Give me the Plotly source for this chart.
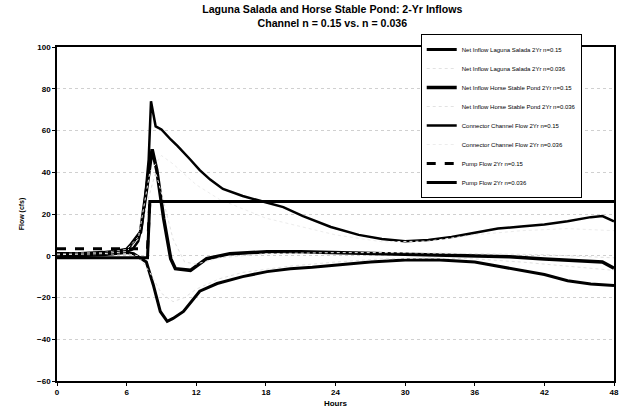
import plotly.graph_objects as go

# ---- data ----
x_tick_vals = [0, 6, 12, 18, 24, 30, 36, 42, 48]
y_tick_vals = [-60, -40, -20, 0, 20, 40, 60, 80, 100]

ls15_hours = [0, 2, 4, 6, 6.6, 7.7, 8.3, 8.9, 9.5, 10.0, 10.9, 12.3, 13.8, 16, 18.1, 20.1, 22, 24, 27, 30, 33, 36, 38, 40, 42, 44, 46, 48]
ls15_flow = [0, 0, 0.5, 1.5, 1, -3, -14, -26.7, -31.4, -30, -26.7, -17, -13.3, -10, -7.6, -6.2, -5.5, -4.5, -3, -2, -2, -3, -5, -7, -9, -12, -13.5, -14.3]

ls036_hours = [0, 4, 6, 7, 8, 9, 10, 11, 12, 14, 16, 20, 24, 28, 32, 36, 40, 44, 48]
ls036_flow = [0, 0.5, 1, 0, -8, -18, -22, -20, -16, -11, -8, -5, -3, -1.5, -1, -1.5, -3, -5, -7]

hsp15_hours = [0, 2, 4, 5, 6, 6.3, 7.2, 7.7, 8.2, 8.6, 9.2, 9.8, 10.2, 11.5, 12.9, 14.9, 18.1, 21, 24, 27, 30, 33, 36, 39, 42, 45, 47, 48]
hsp15_flow = [1, 1, 1.5, 2, 3, 4.8, 11.4, 30, 51, 41, 17.6, -1.4, -6.2, -7, -1.4, 1, 1.9, 1.9, 1.5, 1.2, 1, 0.5, 0, -0.5, -1.5, -2.5, -3, -6]

hsp036_hours = [0, 4, 6, 7, 8, 8.5, 9, 10, 11, 12, 14, 18, 24, 30, 36, 42, 48]
hsp036_flow = [1, 1.5, 3, 9, 30, 40, 30, 8, -3, -4, -1, 1, 1.5, 1.5, 1, 0.5, -1]

cc15_hours = [0, 2, 4, 5, 6, 6.5, 7, 7.3, 7.6, 7.9, 8.1, 8.5, 9.0, 9.8, 10.4, 11.5, 12.3, 13.2, 14.3, 16, 17.8, 19.5, 21.2, 23.6, 26, 28, 30, 32, 34, 36, 38, 40, 42, 44, 46, 47, 48]
cc15_flow = [0.5, 0.5, 1, 1.5, 2, 3, 7, 14, 28, 46, 74, 62, 60.5, 55.7, 52.5, 46, 41, 36.5, 32, 28.6, 26, 23.3, 19, 13.8, 10, 8, 7, 7.5, 9, 11, 13, 14, 15, 16.5, 18.5, 19, 16.5]

cc036_hours = [0, 4, 6, 7, 8, 9, 10, 12, 14, 18, 24, 28, 32, 36, 40, 44, 48]
cc036_flow = [0.5, 1, 2, 8, 40, 48, 44, 34, 27, 18, 10, 6.7, 7, 10, 12, 13, 12]

pump15_hours = [0, 7.8, 8.0, 48]
pump15_flow = [3.3, 3.3, 26, 26]

pump036_hours = [0, 7.8, 8.0, 48]
pump036_flow = [-1, -1, 26, 26]

names = [
    "Net Inflow Laguna Salada 2Yr n=0.15",
    "Net Inflow Laguna Salada 2Yr n=0.036",
    "Net Inflow Horse Stable Pond 2Yr n=0.15",
    "Net Inflow Horse Stable Pond 2Yr n=0.036",
    "Connector Channel Flow 2Yr n=0.15",
    "Connector Channel Flow 2Yr n=0.036",
    "Pump Flow 2Yr n=0.15",
    "Pump Flow 2Yr n=0.036",
]

series = [
    (ls15_hours, ls15_flow, dict(color="black", width=3)),
    (ls036_hours, ls036_flow, dict(color="#e2e2e2", width=1, dash="dot")),
    (hsp15_hours, hsp15_flow, dict(color="black", width=3.5)),
    (hsp036_hours, hsp036_flow, dict(color="#e2e2e2", width=1, dash="dot")),
    (cc15_hours, cc15_flow, dict(color="black", width=2.5)),
    (cc036_hours, cc036_flow, dict(color="#ececec", width=1, dash="dot")),
    (pump15_hours, pump15_flow, dict(color="black", width=3, dash="dash")),
    (pump036_hours, pump036_flow, dict(color="black", width=3)),
]

fig = go.Figure()
for name, (xs, ys, line) in zip(names, series):
    fig.add_trace(go.Scatter(x=xs, y=ys, mode="lines", name=name, line=line))

font_family = "Liberation Sans, Arial, sans-serif"

fig.update_layout(
    width=627,
    height=418,
    margin=dict(l=57, r=13, t=47, b=37, autoexpand=False),
    paper_bgcolor="white",
    plot_bgcolor="white",
    font=dict(family=font_family, color="black"),
    title=dict(
        text="Laguna Salada and Horse Stable Pond: 2-Yr Inflows<br>Channel n = 0.15 vs. n = 0.036",
        x=0.53, xanchor="center", y=0.969, yanchor="top",
        font=dict(size=10.6, weight="bold", family=font_family),
    ),
    showlegend=True,
    legend=dict(
        x=0.653, y=1.039, xanchor="left", yanchor="top",
        bgcolor="white", bordercolor="black", borderwidth=1,
        font=dict(size=6, family=font_family),
        itemwidth=30, tracegroupgap=0,
    ),
)

fig.update_xaxes(
    range=[0, 48], tickvals=x_tick_vals,
    showline=True, linecolor="black", linewidth=1.5, mirror=True,
    ticks="outside", ticklen=3, tickcolor="black",
    showgrid=False, zeroline=False,
    tickfont=dict(size=8, weight="bold"),
    title=dict(text="Hours", font=dict(size=8, weight="bold"), standoff=4),
)
fig.update_yaxes(
    range=[-60, 100], tickvals=y_tick_vals,
    showline=True, linecolor="black", linewidth=1.5, mirror=True,
    ticks="outside", ticklen=3, tickcolor="black",
    showgrid=True, gridcolor="#d0d0d0", griddash="dot", gridwidth=1,
    zeroline=False,
    tickfont=dict(size=8, weight="bold"),
    title=dict(text="Flow (cfs)", font=dict(size=7, weight="bold"), standoff=12),
)

# remove the page's default body margin so the figure fills the window exactly
fig.write_html(
    "out.html",
    config={"displayModeBar": False},
    post_script="document.body.style.margin='0px';",
)
